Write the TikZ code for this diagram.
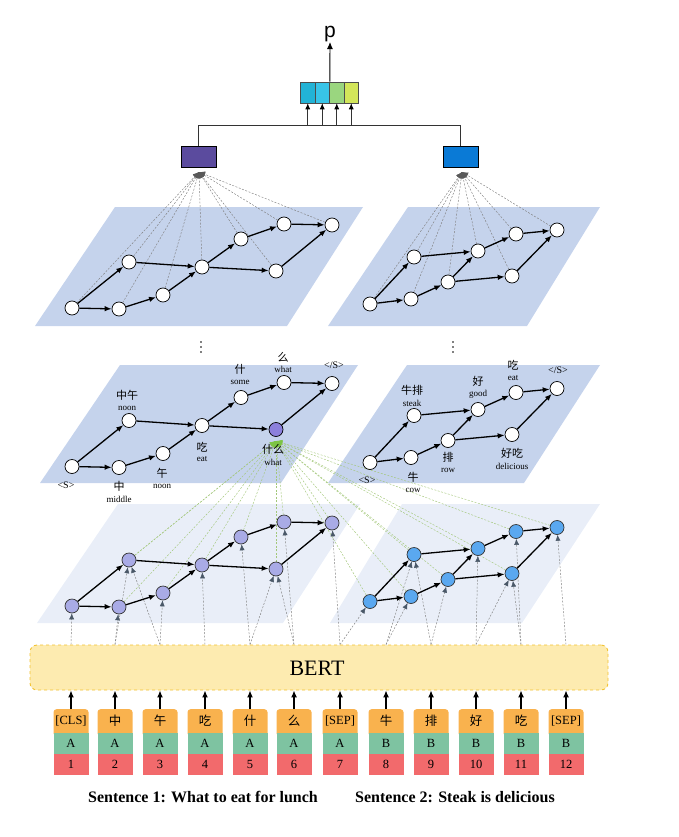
\documentclass[tikz,border=0pt]{standalone}
\usepackage{fontspec}
\setmainfont{Liberation Serif}
\newfontfamily\cjk{Noto Sans CJK SC}
\newfontfamily\sansf{Liberation Sans}
\usetikzlibrary{arrows.meta,backgrounds}
\definecolor{planeA}{HTML}{C5D3EC}
\definecolor{planeB}{HTML}{E9EEF8}
\definecolor{purpbox}{HTML}{5B4B9E}
\definecolor{bluebox}{HTML}{0A7AD6}
\definecolor{lavn}{HTML}{A9ABE6}
\definecolor{bluen}{HTML}{5AA8F0}
\definecolor{purpn}{HTML}{8C80DC}
\definecolor{greenl}{HTML}{A3C77A}
\definecolor{greent}{HTML}{7CC444}
\definecolor{tokO}{HTML}{F9B24E}
\definecolor{tokG}{HTML}{7EC3A1}
\definecolor{tokR}{HTML}{F26A6C}
\definecolor{bertF}{HTML}{FDEBB0}
\definecolor{bertD}{HTML}{F2C230}
\definecolor{vecA}{HTML}{22B3D6}
\definecolor{vecB}{HTML}{38C4E8}
\definecolor{vecC}{HTML}{9AD67F}
\definecolor{vecD}{HTML}{D3E65A}
\definecolor{slatet}{HTML}{4A5868}
\begin{document}
\begin{tikzpicture}[x=1pt,y=-1pt,
  wnode/.style={circle,draw=black,fill=white,minimum size=14pt,inner sep=0pt,line width=0.7pt},
  lnode/.style={circle,draw=black!80,fill=lavn,minimum size=14pt,inner sep=0pt,line width=0.7pt},
  rnode/.style={circle,draw=black!80,fill=bluen,minimum size=14pt,inner sep=0pt,line width=0.7pt},
  gedge/.style={-{Latex[length=7pt,width=5.5pt]},line width=1.3pt,black},
  aggline/.style={dash pattern=on 2pt off 1.5pt,gray,line width=0.45pt,-{Latex[length=6pt,width=6pt,color=black!65]}},
  gline/.style={dash pattern=on 2pt off 1.5pt,greenl,line width=0.45pt,-{Latex[length=6pt,width=6pt,color=greent]}},
  bline/.style={dash pattern=on 2pt off 1.5pt,gray,line width=0.45pt,-{Latex[length=6pt,width=5pt,color=slatet]}},
  zh/.style={font=\cjk\fontsize{11}{11}\selectfont,inner sep=0pt},
  en/.style={font=\fontsize{9}{9}\selectfont,inner sep=0pt},
  sl/.style={font=\fontsize{10}{10}\selectfont,inner sep=0pt},
  vcell/.style={draw=black!70,line width=0.6pt,minimum width=14.5pt,minimum height=21pt,inner sep=0pt},
  abox/.style={draw=black,line width=0.8pt,minimum width=35pt,minimum height=21pt,inner sep=0pt},
  conn/.style={line width=0.7pt,black!80},
  tokt/.style={font=\fontsize{12.5}{12.5}\selectfont,inner sep=0pt},
  tokz/.style={font=\cjk\fontsize{12.5}{12.5}\selectfont,inner sep=0pt},
  cellG/.style={fill=tokG,minimum width=35pt,minimum height=21pt,inner sep=0pt,anchor=north,font=\fontsize{12.5}{12.5}\selectfont},
  cellR/.style={fill=tokR,minimum width=35pt,minimum height=21pt,inner sep=0pt,anchor=north,font=\fontsize{12.5}{12.5}\selectfont},
  cellO/.style={fill=tokO,rounded corners=3pt,minimum width=35pt,minimum height=27pt,inner sep=0pt,anchor=north},
  caption/.style={font=\bfseries\fontsize{16}{16}\selectfont,inner sep=0pt}
]
\useasboundingbox (0,0) rectangle (678,837);

% ---------- planes ----------
\begin{pgfonlayer}{background}
\fill[planeA] (115,207) -- (363,207) -- (287,326) -- (35,326) -- cycle;
\fill[planeA] (408,207) -- (600,207) -- (527,326) -- (328,326) -- cycle;
\fill[planeA] (120,365) -- (358,365) -- (281,483) -- (40,483) -- cycle;
\fill[planeA] (407,365) -- (600,365) -- (524,483) -- (328,483) -- cycle;
\fill[planeB] (118,504) -- (360,504) -- (283,623) -- (37,623) -- cycle;
\fill[planeB] (402,504) -- (600,504) -- (522,623) -- (330,623) -- cycle;
\end{pgfonlayer}

% ---------- graph nodes ----------
\foreach \n/\x/\y in {1/72/308,2/119/309,3/129/262,4/163/295,5/202/267,6/241/239,7/284/224,8/332/225,9/276/271}{
  \node[wnode] (a\n) at (\x,\y) {};
  \node[lnode] (c\n) at (\x,{\y+298}) {};
}
\foreach \n/\x/\y in {1/72/308,2/119/309,3/129/262,4/163/295,5/202/267,6/241/239,7/284/224,8/332/225}{
  \node[wnode] (b\n) at (\x,{\y+158.5}) {};
}
\node[wnode,fill=purpn] (b9) at (276,429.5) {};
\foreach \n/\x/\y in {1/370/304,2/411/299,3/414/257,4/448/282,5/478/251,6/516/234,7/557/230,8/512/276}{
  \node[wnode] (A\n) at (\x,\y) {};
  \node[wnode] (B\n) at (\x,{\y+158.5}) {};
  \node[rnode] (C\n) at (\x,{\y+297.5}) {};
}

% graph edges
\foreach \L in {a,b,c}{
  \foreach \s/\t in {1/3,1/2,2/4,4/5,3/5,5/6,6/7,7/8,5/9,9/8}
    \draw[gedge] (\L\s) -- (\L\t);
}
\foreach \L in {A,B,C}{
  \foreach \s/\t in {1/3,1/2,2/4,4/5,3/5,5/6,6/7,4/8,8/7}
    \draw[gedge] (\L\s) -- (\L\t);
}

% ---------- middle labels ----------
\node[sl] (l1) at (66,485) {<S>};
\node[zh] (l2) at (119,486) {中};
\node[en] (l2e) at (119,499) {middle};
\node[zh] (l3) at (127,395) {中午};
\node[en] (l3e) at (127,408) {noon};
\node[zh] (l4) at (162,473) {午};
\node[en] (l4e) at (162,486) {noon};
\node[zh] (l5) at (202,447) {吃};
\node[en] (l5e) at (202,459) {eat};
\node[zh] (l6) at (240,369) {什};
\node[en] (l6e) at (240,382) {some};
\node[zh] (l7) at (283,357) {么};
\node[en] (l7e) at (283,369) {what};
\node[sl] (l8) at (334,365) {</S>};
\node[zh] (l9) at (273,449) {什么};
\node[en] (l9e) at (273,462) {what};

\node[sl] (r1) at (367,480) {<S>};
\node[zh] (r2) at (413,477) {牛};
\node[en] (r2e) at (413,490) {cow};
\node[zh] (r3) at (412,390) {牛排};
\node[en] (r3e) at (412,403) {steak};
\node[zh] (r4) at (448,457) {排};
\node[en] (r4e) at (448,470) {row};
\node[zh] (r5) at (478,381) {好};
\node[en] (r5e) at (478,394) {good};
\node[zh] (r6) at (513,365) {吃};
\node[en] (r6e) at (513,378) {eat};
\node[sl] (r7) at (558,370) {</S>};
\node[zh] (r8) at (512,453) {好吃};
\node[en] (r8e) at (512,466) {delicious};

% vertical dots
\foreach \xx in {201,453}{
  \fill (\xx,342) circle (0.9);
  \fill (\xx,347) circle (0.9);
  \fill (\xx,352) circle (0.9);
}

% ---------- aggregation ----------
\node[abox,fill=purpbox] (pb) at (198.5,156.5) {};
\node[abox,fill=bluebox] (bb) at (460.5,156.5) {};
\coordinate (fanL) at (199,172);
\coordinate (fanR) at (462,172);
\coordinate (hy) at (0,125);
\node[vcell,fill=vecA] (v1) at (307.75,92.5) {};
\node[vcell,fill=vecB] (v2) at (322.25,92.5) {};
\node[vcell,fill=vecC] (v3) at (336.75,92.5) {};
\node[vcell,fill=vecD] (v4) at (351.25,92.5) {};
\node[font=\sansf\fontsize{21}{21}\selectfont,inner sep=0pt] (p) at (330,34) {p};
\draw[conn] (pb.north) -- (pb.north |- hy) -- (bb.north |- hy) -- (bb.north);
\foreach \i in {1,...,4}
  \draw[conn,-{Latex[length=6pt,width=5pt,color=black]}] (v\i.south |- hy) -- (v\i.south);
\draw[line width=0.9pt,-{Latex[length=7pt,width=6pt]}] (v2.north east) -- (p.south);

\begin{pgfonlayer}{background}
\foreach \n in {1,...,9} \draw[aggline] (a\n) -- (fanL);
\foreach \n in {1,...,8} \draw[aggline] (A\n) -- (fanR);
\coordinate (g9) at (276,441);
\foreach \n in {1,...,9} \draw[gline] (c\n) -- (g9);
\foreach \n in {1,...,8} \draw[gline] (C\n) -- (g9);
\end{pgfonlayer}

% ---------- BERT ----------
\node[draw=bertD,dashed,line width=0.9pt,fill=bertF,rounded corners=7pt,
      minimum width=578pt,minimum height=45pt,inner sep=0pt] (bert) at (319,667.5) {};
\node[font=\fontsize{22}{22}\selectfont,inner sep=0pt] (berttxt) at (317,668) {BERT};

% ---------- tokens ----------
\foreach \i/\cx/\txt/\fnt/\seg in {1/71/{[CLS]}/tokt/A,2/115/中/tokz/A,3/160/午/tokz/A,4/205/吃/tokz/A,
   5/250/什/tokz/A,6/294/么/tokz/A,7/340/{[SEP]}/tokt/A,8/386/牛/tokz/B,9/431/排/tokz/B,
   10/476/好/tokz/B,11/521/吃/tokz/B,12/566/{[SEP]}/tokt/B}{
  \node[cellO] (to\i) at (\cx,709) {};
  \node[\fnt] (tt\i) at (\cx,721) {\txt};
  \node[cellG] (tg\i) at (\cx,733) {\seg};
  \node[cellR] (tr\i) at (\cx,754) {\i};
  \draw[line width=1.2pt,-{Latex[length=7pt,width=6pt]}] (to\i.north) -- (to\i.north |- bert.south);
  \coordinate (bt\i) at (to\i.north |- bert.north);
}

\begin{pgfonlayer}{background}
\foreach \col/\tg in {1/c1,2/c2,2/c3,3/c3,3/c4,4/c5,5/c6,5/c9,6/c9,6/c7,7/c8,7/C1,
   8/C2,8/C3,9/C3,9/C4,10/C5,10/C8,11/C8,11/C6,12/C7}
  \draw[bline] (bt\col) -- (\tg);
\end{pgfonlayer}

\node[caption] (cap1) at (203,797) {Sentence 1: What to eat for lunch};
\node[caption] (cap2) at (455,797) {Sentence 2: Steak is delicious};
\end{tikzpicture}
\end{document}
